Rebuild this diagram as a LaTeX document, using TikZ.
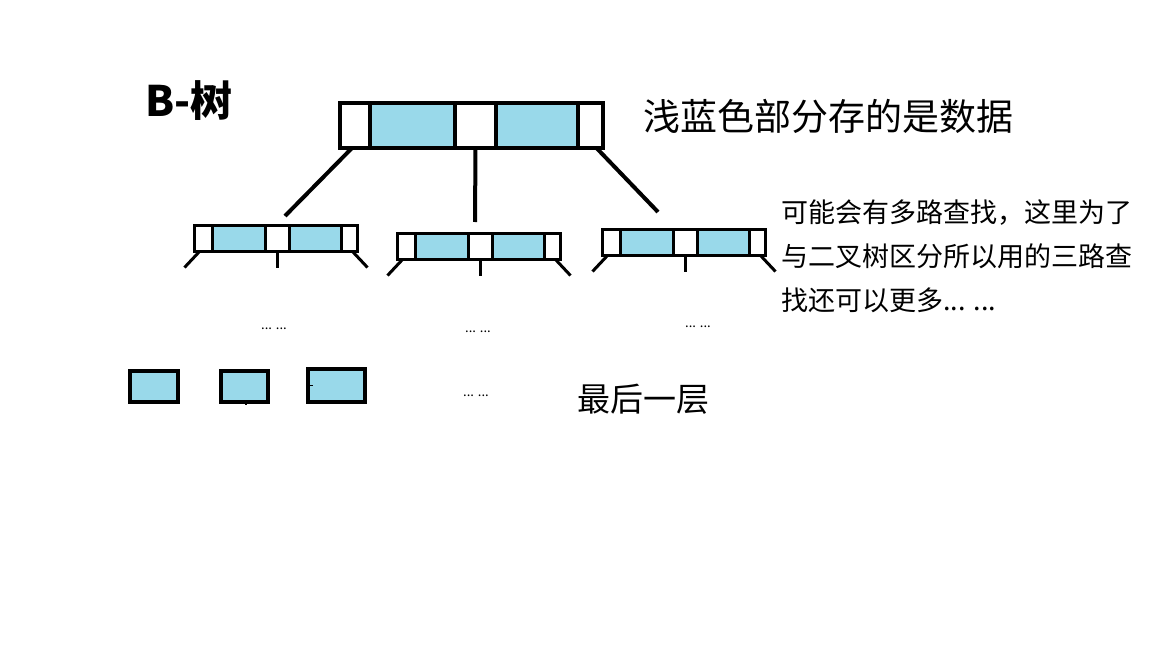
\documentclass[tikz,border=0pt]{standalone}
\usepackage{fontspec}
\usepackage{xcolor}
\usetikzlibrary{positioning}
\newfontfamily\cjk{Noto Sans CJK SC}
\definecolor{keyBlue}{RGB}{153,217,234}

\begin{document}
\begin{tikzpicture}[x=1pt, y=-1pt, node distance=0pt,
    rootcell/.style={draw, line width=4pt, minimum height=45pt, inner sep=0pt, outer sep=0pt},
    leafcell/.style={draw, line width=3pt, minimum height=26pt, inner sep=0pt, outer sep=0pt},
    lastbox/.style={draw, line width=4.5pt, fill=keyBlue, minimum height=31pt, inner sep=0pt, outer sep=0pt},
    link/.style={line width=4pt},
    foot/.style={line width=3pt},
    dots/.style={font=\cjk\fontsize{13}{13}\selectfont, anchor=base, inner sep=0pt}]
            \useasboundingbox (0,0) rectangle (1152,648);
            % root node
            \node[rootcell, minimum width=30pt, anchor=north west] (r1) at (340,103) {};
            \node[rootcell, minimum width=85pt, fill=keyBlue, right=of r1] (r2) {};
            \node[rootcell, minimum width=41pt, right=of r2] (r3) {};
            \node[rootcell, minimum width=82pt, fill=keyBlue, right=of r3] (r4) {};
            \node[rootcell, minimum width=25pt, right=of r4] (r5) {};
            % second level
            \foreach \i/\x/\y in {1/194.5/225.5, 2/397.5/233.5, 3/602.5/229.5} {
                \node[leafcell, minimum width=18pt, anchor=north west] (k\i-a) at (\x,\y) {};
                \node[leafcell, minimum width=53pt, fill=keyBlue, right=of k\i-a] (k\i-b) {};
                \node[leafcell, minimum width=24pt, right=of k\i-b] (k\i-c) {};
                \node[leafcell, minimum width=52pt, fill=keyBlue, right=of k\i-c] (k\i-d) {};
                \node[leafcell, minimum width=16pt, right=of k\i-d] (k\i-e) {};
                \draw[foot] ([xshift=5pt]k\i-a.south west) -- +(-15,16);
                \draw[foot] (k\i-c.south) -- +(0,16);
                \draw[foot] ([xshift=-5pt]k\i-e.south east) -- +(15,16);
            }
            \coordinate (e1) at (285,216);
            \coordinate (e2) at (475,222);
            \coordinate (e3) at (658,212);
            \draw[link] ([xshift=-3pt]r1.south) -- (e1);
            \draw[link] (r3.south) -- (e2);
            \draw[link] ([xshift=6pt]r5.south) -- (e3);
            % last level
            \node[lastbox, minimum width=48pt, anchor=north west] (b1) at (130,371) {};
            \node[lastbox, minimum width=47pt, anchor=north west] (b2) at (221,371) {};
            \node[lastbox, minimum width=57pt, minimum height=33pt, anchor=north west] (b3) at (308,369) {};
            \draw[line width=1.5pt] ([xshift=1.5pt]b2.south) -- +(0,3);
            \draw[line width=1.5pt] ([xshift=-1pt]b3.west) -- +(6,0);
            % texts
            \node[font=\cjk\bfseries\fontsize{42}{44}\selectfont, anchor=west, inner sep=0pt] (title) at (145,101) {B-树};
            \node[font=\cjk\fontsize{37}{40}\selectfont, anchor=west, inner sep=0pt] (legend) at (643,116) {浅蓝色部分存的是数据};
            \node[font=\cjk\fontsize{27}{44}\selectfont, align=left, anchor=north west, inner sep=0pt] (note) at (781,199)
                {可能会有多路查找，这里为了\\与二叉树区分所以用的三路查\\找还可以更多... ...};
            \node[font=\cjk\fontsize{33}{36}\selectfont, anchor=west, inner sep=0pt] (last) at (577,399) {最后一层};
            \node[dots] (d1) at (274,329) {... ...};
            \node[dots] (d2) at (478,332) {... ...};
            \node[dots] (d3) at (698,327) {... ...};
            \node[dots] (d4) at (476,396) {... ...};
        \end{tikzpicture}
\end{document}
